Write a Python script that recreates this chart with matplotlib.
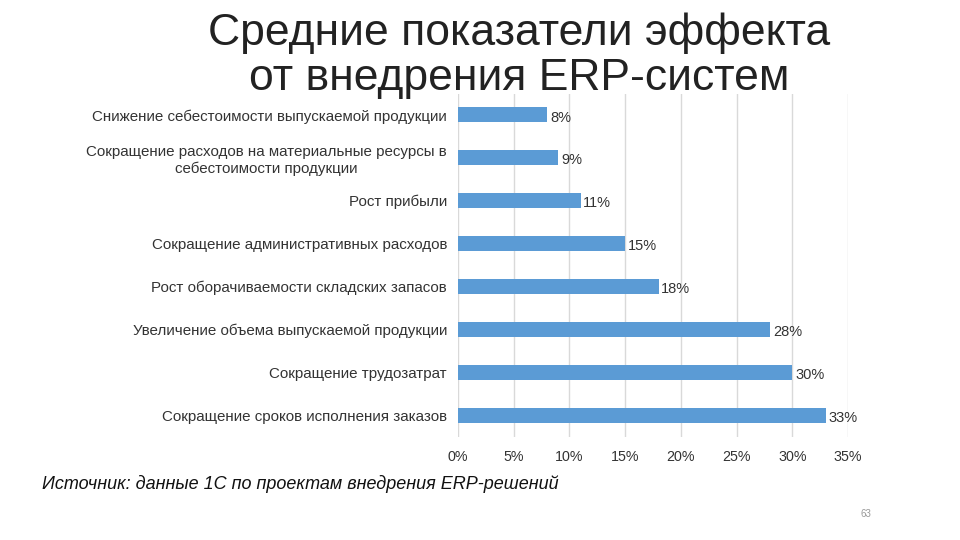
import matplotlib
matplotlib.use("Agg")
import matplotlib.pyplot as plt
from matplotlib.ticker import FuncFormatter

categories = [
    "Снижение себестоимости выпускаемой продукции",
    "Сокращение расходов на материальные ресурсы в\nсебестоимости продукции",
    "Рост прибыли",
    "Сокращение административных расходов",
    "Рост оборачиваемости складских запасов",
    "Увеличение объема выпускаемой продукции",
    "Сокращение трудозатрат",
    "Сокращение сроков исполнения заказов",
]
values = [8, 9, 11, 15, 18, 28, 30, 33]
xticks = [0, 5, 10, 15, 20, 25, 30, 35]

title = "Средние показатели эффекта\nот внедрения ERP-систем"
source = "Источник: данные 1С по проектам внедрения ERP-решений"
page = "63"

plt.rcParams['font.family'] = ['Liberation Sans', 'DejaVu Sans']

fig = plt.figure(figsize=(9.6, 5.4), dpi=100)
ax = fig.add_axes([458/960, 1-436.5/540, 390/960, 343/540])

y = list(range(len(categories)))
ax.barh(y, values, height=0.35, color="#5B9BD5", zorder=3)
for yi, v in zip(y, values):
    ax.text(v + 0.25, yi + 0.06, f"{v}%", va="center", ha="left", fontsize=10.5, color="#333333")

ax.set_xlim(0, 35)
ax.set_ylim(len(categories) - 0.5, -0.5)
ax.set_xticks(xticks)
ax.xaxis.set_major_formatter(FuncFormatter(lambda x, p: f"{int(x)}%"))
ax.set_yticks(y)
ax.set_yticklabels(categories, fontsize=10.9, color="#333333", ha="right", multialignment="center")
ax.tick_params(axis="y", length=0, pad=8)
ax.tick_params(axis="x", length=0, pad=10, labelsize=10.3, labelcolor="#333333")
ax.grid(axis="x", color="#D9D9D9", linewidth=1, zorder=0)
for s in ax.spines.values():
    s.set_visible(False)

fig.text(519/960, 1-56/540, title, ha="center", va="center", fontsize=32, color="#222222", linespacing=1.12)
fig.text(42/960, 1-484/540, source, ha="left", va="center", fontsize=13, style="italic", color="#111111")
fig.text(866/960, 1-514/540, page, ha="center", va="center", fontsize=7, color="#999999")

fig.savefig("out.png", dpi=100)
